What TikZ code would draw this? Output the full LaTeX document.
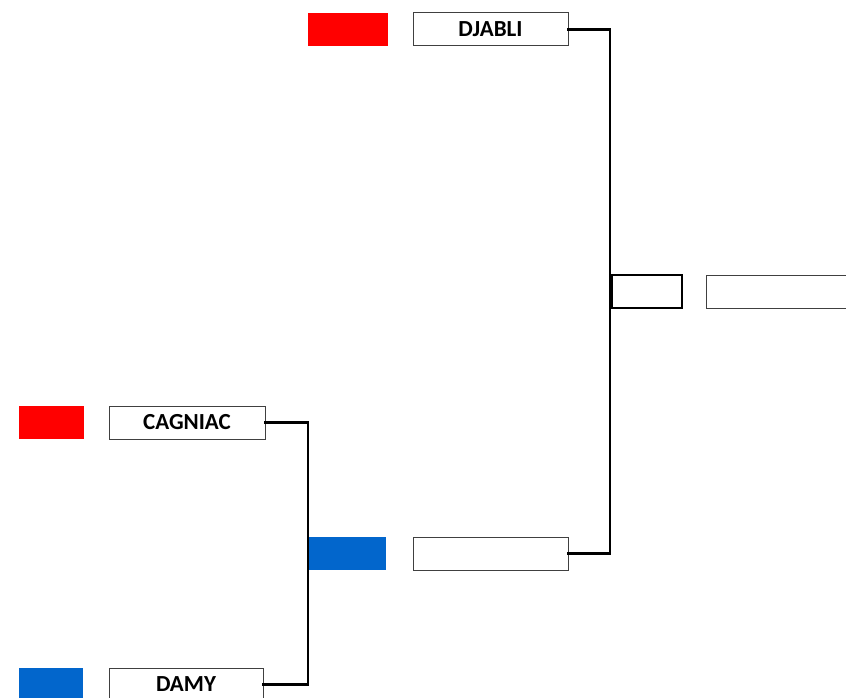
\documentclass[tikz,border=0pt]{standalone}
\usepackage{fontspec}
\setmainfont{Carlito}
\usetikzlibrary{positioning}
\definecolor{teamred}{RGB}{255,0,0}
\definecolor{teamblue}{RGB}{2,102,204}
\definecolor{boxgray}{RGB}{64,64,64}
\begin{document}
\begin{tikzpicture}[x=1pt, y=-1pt, line join=miter, line cap=rect]
    \tikzset{every node/.style={inner sep=0pt, outer sep=0pt, anchor=north west},
        namebox/.style={draw=boxgray, line width=1pt, fill=white, minimum width=155pt, minimum height=33pt, font=\fontsize{23}{23}\selectfont\bfseries},
        flag/.style={minimum height=33pt},
        link/.style={line width=2.3pt, black}}
    \useasboundingbox (0,0) rectangle (846,698);
    % colour flags
    \node[flag, fill=teamred, minimum width=80pt] (fdja) at (308,13) {};
    \node[flag, fill=teamred, minimum width=65pt] (fcag) at (19,406) {};
    \node[flag, fill=teamblue, minimum width=77pt] (fmid) at (309,537) {};
    \node[flag, fill=teamblue, minimum width=64pt] (fdam) at (19,668) {};
    % team boxes
    \node[namebox] (dja) at (413,13) {DJABLI};
    \node[namebox, minimum width=156pt] (cag) at (109,406) {CAGNIAC};
    \node[namebox] (mid) at (413,537) {};
    \node[namebox, minimum width=154pt] (dam) at (109,668) {DAMY};
    % final
    \node[draw, line width=2.5pt, minimum width=70pt, minimum height=33pt] (fin) at (612,275) {};
    \node[namebox, minimum width=150pt] (win) at (706,275) {};
    % brackets
    \draw[link] (cag.east) -- ++(43,0) |- (dam.east);
    \draw[link] (dja.east) -- ++(42,0) |- (mid.east);
\end{tikzpicture}
\end{document}
